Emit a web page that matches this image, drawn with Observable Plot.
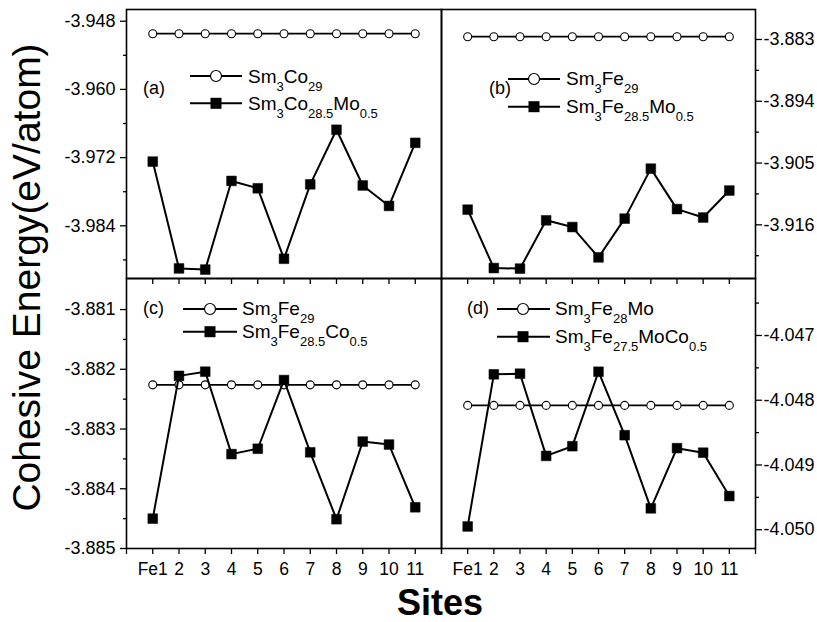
<!DOCTYPE html>
<html>
<head>
<meta charset="utf-8">
<script src="https://cdn.jsdelivr.net/npm/d3@7"></script>
<script src="https://cdn.jsdelivr.net/npm/@observablehq/plot@0.6"></script>
<style>
  html, body { margin: 0; padding: 0; background: white; }
  #chart { position: relative; width: 817px; height: 622px; background: white; overflow: hidden; }
  #chart svg { position: absolute; left: 0; top: 0; }
</style>
</head>
<body>
<div id="chart"></div>
<script>
// ---- data ----
const sites = ["Fe1", "2", "3", "4", "5", "6", "7", "8", "9", "10", "11"];

const aHost  = [-3.9502, -3.9502, -3.9502, -3.9502, -3.9502, -3.9502, -3.9502, -3.9502, -3.9502, -3.9502, -3.9502];
const aDoped = [-3.9727, -3.9915, -3.9917, -3.9761, -3.9774, -3.9898, -3.9767, -3.9671, -3.9769, -3.9805, -3.9694];

const bHost  = [-3.8825, -3.8825, -3.8825, -3.8825, -3.8825, -3.8825, -3.8825, -3.8825, -3.8825, -3.8825, -3.8825];
const bDoped = [-3.9133, -3.9237, -3.9238, -3.9152, -3.9164, -3.9218, -3.9149, -3.9060, -3.9132, -3.9147, -3.9099];

const cHost  = [-3.88226, -3.88226, -3.88226, -3.88226, -3.88226, -3.88226, -3.88226, -3.88226, -3.88226, -3.88226, -3.88226];
const cDoped = [-3.88450, -3.88211, -3.88204, -3.88342, -3.88333, -3.88218, -3.88339, -3.88451, -3.88321, -3.88326, -3.88431];

const dHost  = [-4.04808, -4.04808, -4.04808, -4.04808, -4.04808, -4.04808, -4.04808, -4.04808, -4.04808, -4.04808, -4.04808];
const dDoped = [-4.04995, -4.04760, -4.04759, -4.04886, -4.04871, -4.04756, -4.04854, -4.04967, -4.04874, -4.04881, -4.04948];

const aTicks = [-3.948, -3.960, -3.972, -3.984];
const aMinor = [-3.954, -3.966, -3.978, -3.990];
const bTicks = [-3.883, -3.894, -3.905, -3.916];
const bMinor = [-3.8885, -3.8995, -3.9105, -3.9215];
const cTicks = [-3.881, -3.882, -3.883, -3.884, -3.885];
const cMinor = [-3.8815, -3.8825, -3.8835, -3.8845];
const dTicks = [-4.047, -4.048, -4.049, -4.050];
const dMinor = [-4.0465, -4.0475, -4.0485, -4.0495];

const legendA = ["Sm_{3}Co_{29}", "Sm_{3}Co_{28.5}Mo_{0.5}"];
const legendB = ["Sm_{3}Fe_{29}", "Sm_{3}Fe_{28.5}Mo_{0.5}"];
const legendC = ["Sm_{3}Fe_{29}", "Sm_{3}Fe_{28.5}Co_{0.5}"];
const legendD = ["Sm_{3}Fe_{28}Mo", "Sm_{3}Fe_{27.5}MoCo_{0.5}"];
const panelTags = ["(a)", "(b)", "(c)", "(d)"];
const yTitle = "Cohesive Energy(eV/atom)";
const xTitle = "Sites";

// ---- layout ----
const W = 817, H = 622;
const FONT = "'Liberation Sans', Arial, Helvetica, sans-serif";
const siteIdx = sites.map((s, i) => i + 1);
const siteFmt = i => (i >= 1 && i <= sites.length) ? sites[i - 1] : "";

function panel({host, doped, yDomain, yTicks, yMinor, side, box, bottomLabels}) {
  const [l, t, r, b] = box;
  const rows = sites.map((s, i) => ({x: i + 1, host: host[i], doped: doped[i]}));
  const marks = [
    Plot.lineY(rows, {x: "x", y: "host", stroke: "black", strokeWidth: 1.8}),
    Plot.dot(rows, {x: "x", y: "host", r: 4, fill: "white", stroke: "black", strokeWidth: 1.1}),
    Plot.lineY(rows, {x: "x", y: "doped", stroke: "black", strokeWidth: 2}),
    Plot.dot(rows, {x: "x", y: "doped", symbol: "square", r: 5.5, fill: "black", stroke: "black", strokeWidth: 0.5}),
    Plot.axisY({anchor: side, ticks: yTicks, tickSize: 6, tickPadding: side === "left" ? 5 : 2,
                tickFormat: d => d.toFixed(3), fontSize: 18, strokeWidth: 1.3, label: null}),
    Plot.axisY({anchor: side, ticks: yMinor, tickSize: 3, tickFormat: () => "", strokeWidth: 1.3, label: null}),
    Plot.frame({stroke: "black", strokeWidth: 1.6})
  ];
  if (bottomLabels) {
    marks.push(Plot.axisX({anchor: "bottom", ticks: [0, ...siteIdx, 12], tickSize: 6, tickPadding: 8,
                           tickFormat: siteFmt, fontSize: 17.5, strokeWidth: 1.3, label: null}));
  } else {
    marks.push(Plot.axisX({anchor: "bottom", ticks: siteIdx, tickSize: 6, tickFormat: () => "",
                           strokeWidth: 1.3, label: null}));
  }
  return Plot.plot({
    width: W, height: H,
    marginLeft: l, marginTop: t, marginRight: W - r, marginBottom: H - b,
    x: {domain: [0, 12], label: null},
    y: {domain: yDomain, label: null},
    style: {background: "transparent", fontFamily: FONT, fontSize: "17px", color: "black", overflow: "visible"},
    marks
  });
}

const chart = document.getElementById("chart");
chart.append(panel({host: aHost, doped: aDoped, yDomain: [-3.99327, -3.94594], yTicks: aTicks, yMinor: aMinor,
                    side: "left", box: [126, 9, 441, 278], bottomLabels: false}));
chart.append(panel({host: bHost, doped: bDoped, yDomain: [-3.92556, -3.87766], yTicks: bTicks, yMinor: bMinor,
                    side: "right", box: [441, 9, 755, 278], bottomLabels: false}));
chart.append(panel({host: cHost, doped: cDoped, yDomain: [-3.88500, -3.88048], yTicks: cTicks, yMinor: cMinor,
                    side: "left", box: [126, 278, 441, 548], bottomLabels: true}));
chart.append(panel({host: dHost, doped: dDoped, yDomain: [-4.05029, -4.04612], yTicks: dTicks, yMinor: dMinor,
                    side: "right", box: [441, 278, 755, 548], bottomLabels: true}));

// ---- overlay: titles, tags, legends ----
const ov = d3.select(chart).append("svg")
  .attr("width", W).attr("height", H)
  .style("font-family", FONT);

ov.append("text")
  .attr("transform", "translate(40,277.5) rotate(-90)")
  .attr("text-anchor", "middle")
  .attr("font-size", 39)
  .text(yTitle);

ov.append("text")
  .attr("x", 440).attr("y", 615)
  .attr("text-anchor", "middle")
  .attr("font-size", 36).attr("font-weight", "bold")
  .text(xTitle);

function richText(g, x, y, str) {
  const t = g.append("text").attr("x", x).attr("y", y).attr("font-size", 19);
  const parts = str.split(/_\{([^}]*)\}/);
  parts.forEach((p, i) => {
    if (!p) return;
    if (i % 2 === 1) t.append("tspan").attr("y", y + 8).attr("font-size", 13).text(p);
    else t.append("tspan").attr("y", y).text(p);
  });
}

const legendLayouts = [
  {labels: legendA, tag: [143, 93.5], x1: 190, x2: 242, mx: 216, rows: [[76, 83.3], [103.3, 110]], tx: 248},
  {labels: legendB, tag: [489, 93.5], x1: 508, x2: 560, mx: 534, rows: [[79, 85], [106.7, 113.3]], tx: 566},
  {labels: legendC, tag: [143, 313.5], x1: 183, x2: 237, mx: 210, rows: [[309, 315], [331.7, 338]], tx: 242},
  {labels: legendD, tag: [467, 313.5], x1: 497, x2: 550, mx: 523, rows: [[309, 315], [336.7, 343]], tx: 555}
];

legendLayouts.forEach((L, k) => {
  const g = ov.append("g");
  g.append("text").attr("x", L.tag[0]).attr("y", L.tag[1]).attr("font-size", 18).text(panelTags[k]);
  L.rows.forEach(([my, by], j) => {
    g.append("line").attr("x1", L.x1).attr("x2", L.x2).attr("y1", my).attr("y2", my)
      .attr("stroke", "black").attr("stroke-width", 2);
    if (j === 0) {
      g.append("circle").attr("cx", L.mx).attr("cy", my).attr("r", 5.5)
        .attr("fill", "white").attr("stroke", "black").attr("stroke-width", 1.2);
    } else {
      g.append("rect").attr("x", L.mx - 5.5).attr("y", my - 5.5).attr("width", 11).attr("height", 11)
        .attr("fill", "black");
    }
    richText(g, L.tx, by, L.labels[j]);
  });
});
</script>
</body>
</html>
